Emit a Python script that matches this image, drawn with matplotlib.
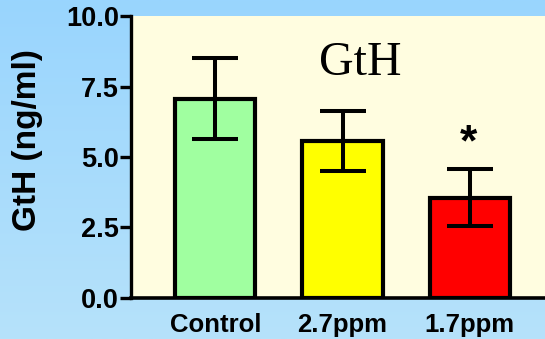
import numpy as np
import matplotlib
matplotlib.use("Agg")
import matplotlib.pyplot as plt

categories = ["Control", "2.7ppm", "1.7ppm"]
means = [7.08, 5.56, 3.55]
errors = [1.44, 1.07, 1.01]
colors = ["#a0ffa0", "#ffff00", "#ff0000"]
yticks = [0.0, 2.5, 5.0, 7.5, 10.0]

fig = plt.figure(figsize=(5.45, 3.39), dpi=100)

# background gradient
bg = fig.add_axes([0, 0, 1, 1], zorder=-10)
grad = np.linspace(0, 1, 256).reshape(-1, 1)
top = np.array([153, 213, 254]) / 255
bot = np.array([182, 226, 250]) / 255
img = top[None, None, :] * (1 - grad[:, :, None]) + bot[None, None, :] * grad[:, :, None]
bg.imshow(img, aspect="auto", extent=[0, 1, 0, 1])
bg.axis("off")

ax = fig.add_axes([131 / 545, 1 - 297.6 / 339, 1 - 131 / 545 + 0.01, (297.6 - 16.4) / 339])
ax.set_facecolor("#fffde0")
x = np.arange(len(categories))
ax.bar(x, means, width=0.63, color=colors, edgecolor="black", linewidth=3, zorder=2)
ax.errorbar(x, means, yerr=errors, fmt="none", ecolor="black", elinewidth=2.9,
            capsize=16.5, capthick=2.9, zorder=3)

ax.set_xlim(-0.662, 2.59 + 0.01 * 545 / 127.3)
ax.set_ylim(0, 10)
ax.set_yticks(yticks)
ax.set_yticklabels([f"{v:.1f}" for v in yticks], fontsize=19.5, fontweight="bold",
                   family="Liberation Sans")
ax.set_xticks(x)
ax.set_xticklabels(categories, fontsize=18.5, fontweight="bold", family="Liberation Sans")
ax.tick_params(axis="y", length=8, width=2.4, pad=0.5)
ax.tick_params(axis="x", length=0, pad=11)
for s in ["top", "right"]:
    ax.spines[s].set_visible(False)
ax.spines["left"].set_linewidth(2.4)
ax.spines["bottom"].set_linewidth(2.6)

ax.set_ylabel("GtH (ng/ml)", fontsize=24, fontweight="bold", family="Liberation Sans")
ax.yaxis.set_label_coords(-0.21, 0.56)

ax.text(1.14, 7.91, "GtH", fontsize=34.5, family="Liberation Serif", ha="center", va="baseline")
ax.text(1.99, 5.45, "*", fontsize=32, fontweight="bold", family="Liberation Sans",
        ha="center", va="center")

fig.savefig("out.png", dpi=100)
